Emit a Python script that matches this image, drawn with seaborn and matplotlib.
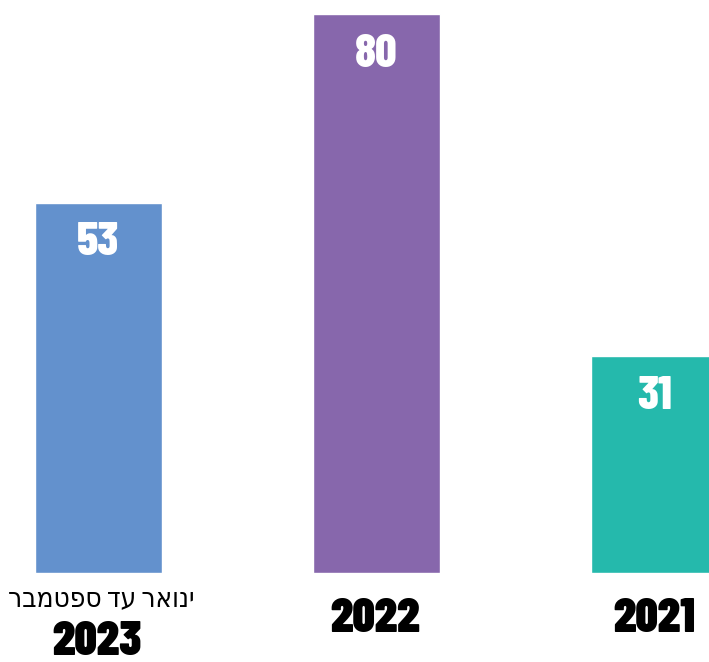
import matplotlib
matplotlib.use("Agg")
import matplotlib.pyplot as plt
import seaborn as sns
import pandas as pd

years = ["2023", "2022", "2021"]
values = [53, 80, 31]
colors = ["#6391CD", "#8767AC", "#25B9AC"]
subtitle_2023 = "ינואר עד ספטמבר"

sns.set_theme(style="white")
NUM_FONT = ["Barlow Condensed", "DejaVu Sans"]
plt.rcParams["font.family"] = NUM_FONT

df = pd.DataFrame({"year": years, "value": values})

fig = plt.figure(figsize=(7.09, 6.62), dpi=100)
ax = fig.add_axes([0, 0.1344, 1, 0.8656])
sns.barplot(data=df, x="year", y="value", hue="year", palette=colors,
            width=0.457, legend=False, ax=ax, saturation=1)
ax.set_xlim(-0.354, 2.196)
ax.set_ylim(0, 82)
ax.axis("off")

for i, v in enumerate(values):
    ax.annotate(str(v), xy=(i, v), xytext=(0, -38), textcoords="offset points",
                ha="center", va="baseline", color="white", fontsize=34,
                fontweight=800, family=NUM_FONT)


def fig_y(px):
    return 1 - px / 662

fig.text(97 / 709, fig_y(655), years[0], ha="center", va="baseline",
         fontsize=35, fontweight=900, color="black", family=NUM_FONT)
fig.text(101 / 709, fig_y(606), subtitle_2023[::-1], ha="center", va="baseline",
         fontsize=20, color="black", family=["Open Sans", "DejaVu Sans"],
         fontstretch="condensed")
fig.text(375 / 709, fig_y(632), years[1], ha="center", va="baseline",
         fontsize=35, fontweight=900, color="black", family=NUM_FONT)
fig.text(654 / 709, fig_y(632), years[2], ha="center", va="baseline",
         fontsize=35, fontweight=900, color="black", family=NUM_FONT)

fig.savefig("out.png", dpi=100)
